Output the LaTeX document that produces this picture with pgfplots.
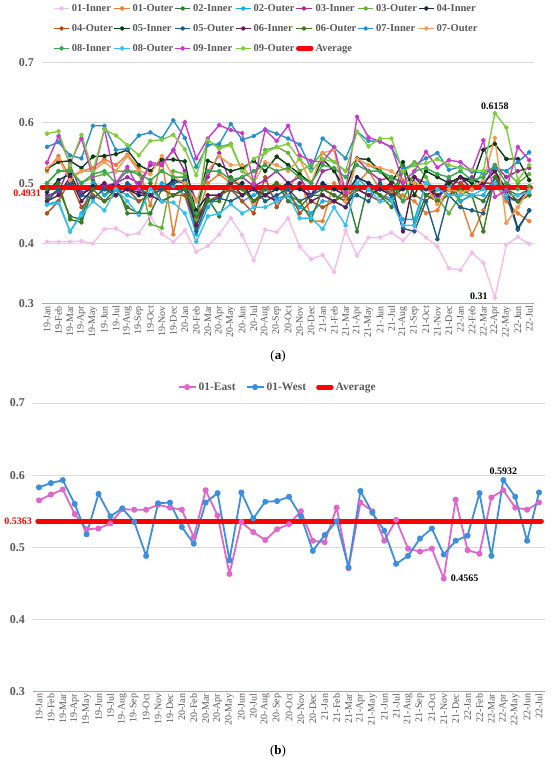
\documentclass[border=0pt]{standalone}
\usepackage{fontspec}
\setmainfont{Liberation Serif}
\usepackage{pgfplots}
\usepackage{pgfplotstable}
\pgfplotsset{compat=1.18}

\definecolor{ci01}{HTML}{F4BCE8}
\definecolor{co01}{HTML}{ED7D31}
\definecolor{ci02}{HTML}{2E7D32}
\definecolor{co02}{HTML}{1AAAE8}
\definecolor{ci03}{HTML}{A22DA0}
\definecolor{co03}{HTML}{5FB33A}
\definecolor{ci04}{HTML}{13294B}
\definecolor{co04}{HTML}{B0521E}
\definecolor{ci05}{HTML}{0B3D12}
\definecolor{co05}{HTML}{1D5E85}
\definecolor{ci06}{HTML}{5E1A56}
\definecolor{co06}{HTML}{3D7A1E}
\definecolor{ci07}{HTML}{2390CC}
\definecolor{co07}{HTML}{F79A55}
\definecolor{ci08}{HTML}{34A84A}
\definecolor{co08}{HTML}{34C0F2}
\definecolor{ci09}{HTML}{CC3ACB}
\definecolor{co09}{HTML}{7ECE3C}
\definecolor{ceast}{HTML}{E066CC}
\definecolor{cwest}{HTML}{3C8FDC}
\definecolor{tickgray}{HTML}{595959}
\definecolor{gridgray}{HTML}{D9D9D9}
\definecolor{axblue}{HTML}{8EAFD0}

\pgfplotstableread[header=false]{
i01 0.403 0.403 0.403 0.404 0.400 0.424 0.425 0.414 0.417 0.445 0.416 0.403 0.422 0.386 0.396 0.415 0.442 0.414 0.372 0.423 0.419 0.442 0.395 0.374 0.381 0.353 0.422 0.380 0.410 0.410 0.418 0.405 0.425 0.410 0.395 0.359 0.356 0.385 0.368 0.310 0.398 0.411 0.399
o01 0.520 0.545 0.510 0.520 0.525 0.540 0.530 0.547 0.525 0.463 0.540 0.415 0.510 0.440 0.500 0.515 0.500 0.500 0.460 0.490 0.500 0.490 0.520 0.437 0.437 0.500 0.480 0.500 0.520 0.490 0.485 0.480 0.470 0.450 0.455 0.490 0.470 0.414 0.455 0.500 0.470 0.450 0.437
i02 0.475 0.490 0.445 0.440 0.505 0.480 0.500 0.450 0.450 0.450 0.490 0.480 0.490 0.440 0.475 0.445 0.490 0.480 0.500 0.480 0.500 0.470 0.460 0.480 0.480 0.470 0.490 0.420 0.500 0.480 0.470 0.530 0.430 0.480 0.470 0.510 0.470 0.480 0.470 0.500 0.490 0.480 0.490
o02 0.465 0.470 0.420 0.450 0.500 0.480 0.490 0.480 0.470 0.480 0.500 0.495 0.480 0.415 0.460 0.480 0.490 0.470 0.480 0.490 0.475 0.480 0.460 0.450 0.470 0.470 0.460 0.510 0.490 0.480 0.475 0.440 0.440 0.500 0.480 0.495 0.470 0.480 0.480 0.510 0.475 0.470 0.480
i03 0.480 0.485 0.530 0.485 0.490 0.495 0.500 0.510 0.500 0.530 0.530 0.555 0.520 0.470 0.510 0.550 0.500 0.510 0.495 0.505 0.520 0.500 0.510 0.480 0.520 0.525 0.470 0.540 0.520 0.505 0.510 0.500 0.510 0.500 0.470 0.505 0.500 0.510 0.495 0.530 0.510 0.520 0.525
o03 0.500 0.520 0.523 0.500 0.510 0.515 0.520 0.520 0.520 0.432 0.426 0.520 0.515 0.440 0.570 0.560 0.565 0.520 0.505 0.555 0.560 0.550 0.520 0.530 0.550 0.535 0.520 0.540 0.530 0.520 0.505 0.520 0.535 0.510 0.475 0.450 0.480 0.490 0.520 0.525 0.520 0.500 0.515
i04 0.485 0.505 0.515 0.480 0.495 0.490 0.500 0.490 0.480 0.480 0.490 0.505 0.500 0.455 0.480 0.480 0.490 0.500 0.470 0.480 0.490 0.500 0.490 0.480 0.500 0.490 0.480 0.510 0.500 0.490 0.480 0.490 0.500 0.480 0.490 0.500 0.510 0.505 0.500 0.520 0.490 0.425 0.455
o04 0.450 0.470 0.505 0.460 0.480 0.470 0.480 0.490 0.470 0.480 0.490 0.480 0.480 0.430 0.470 0.480 0.490 0.470 0.450 0.510 0.460 0.490 0.450 0.470 0.460 0.470 0.480 0.490 0.480 0.470 0.490 0.470 0.480 0.470 0.490 0.480 0.500 0.490 0.500 0.500 0.490 0.470 0.480
i05 0.524 0.535 0.537 0.525 0.544 0.545 0.548 0.555 0.530 0.520 0.539 0.539 0.536 0.447 0.537 0.530 0.520 0.525 0.537 0.520 0.544 0.530 0.515 0.500 0.540 0.520 0.490 0.541 0.539 0.520 0.500 0.535 0.480 0.520 0.510 0.500 0.510 0.500 0.555 0.565 0.540 0.540 0.505
o05 0.470 0.490 0.500 0.480 0.475 0.490 0.480 0.500 0.490 0.480 0.490 0.500 0.505 0.420 0.470 0.475 0.470 0.480 0.490 0.470 0.480 0.490 0.470 0.480 0.490 0.480 0.470 0.480 0.470 0.500 0.480 0.425 0.420 0.470 0.407 0.480 0.460 0.455 0.450 0.510 0.480 0.423 0.455
i06 0.470 0.480 0.510 0.470 0.490 0.500 0.480 0.490 0.485 0.480 0.470 0.480 0.490 0.430 0.480 0.480 0.500 0.480 0.490 0.480 0.470 0.480 0.500 0.470 0.480 0.470 0.460 0.490 0.480 0.490 0.500 0.420 0.510 0.490 0.480 0.490 0.510 0.490 0.500 0.520 0.480 0.470 0.490
o06 0.490 0.500 0.440 0.435 0.490 0.470 0.490 0.460 0.450 0.500 0.470 0.480 0.490 0.445 0.470 0.470 0.510 0.490 0.470 0.490 0.500 0.480 0.470 0.440 0.490 0.480 0.470 0.490 0.490 0.480 0.460 0.520 0.500 0.480 0.470 0.480 0.490 0.480 0.420 0.510 0.490 0.470 0.480
i07 0.560 0.568 0.546 0.541 0.595 0.595 0.555 0.557 0.579 0.584 0.574 0.604 0.575 0.527 0.563 0.565 0.598 0.572 0.578 0.589 0.582 0.574 0.564 0.524 0.574 0.559 0.541 0.585 0.570 0.569 0.559 0.524 0.530 0.541 0.550 0.522 0.527 0.519 0.517 0.525 0.520 0.535 0.551
o07 0.525 0.540 0.505 0.520 0.520 0.535 0.520 0.545 0.520 0.515 0.545 0.510 0.500 0.470 0.520 0.545 0.530 0.530 0.500 0.535 0.530 0.520 0.540 0.500 0.550 0.555 0.470 0.540 0.530 0.525 0.520 0.505 0.500 0.495 0.465 0.490 0.485 0.490 0.505 0.575 0.434 0.460 0.490
i08 0.500 0.520 0.520 0.500 0.515 0.520 0.500 0.520 0.515 0.505 0.520 0.510 0.510 0.450 0.520 0.520 0.505 0.510 0.520 0.530 0.520 0.525 0.510 0.500 0.530 0.525 0.510 0.530 0.520 0.520 0.510 0.470 0.520 0.525 0.515 0.510 0.520 0.505 0.510 0.530 0.500 0.490 0.495
o08 0.464 0.467 0.420 0.447 0.470 0.455 0.490 0.470 0.447 0.490 0.470 0.468 0.450 0.403 0.445 0.450 0.465 0.450 0.460 0.460 0.470 0.480 0.442 0.442 0.424 0.460 0.430 0.500 0.490 0.470 0.470 0.430 0.430 0.500 0.490 0.480 0.480 0.480 0.490 0.500 0.480 0.480 0.485
i09 0.534 0.578 0.532 0.574 0.510 0.590 0.500 0.527 0.490 0.534 0.532 0.554 0.601 0.541 0.574 0.596 0.588 0.583 0.500 0.588 0.570 0.595 0.546 0.537 0.535 0.560 0.485 0.610 0.576 0.569 0.560 0.502 0.520 0.552 0.526 0.538 0.535 0.520 0.571 0.477 0.488 0.560 0.538
o09 0.582 0.586 0.530 0.580 0.520 0.589 0.579 0.563 0.546 0.570 0.572 0.580 0.556 0.513 0.571 0.557 0.563 0.520 0.540 0.550 0.560 0.565 0.540 0.520 0.540 0.535 0.520 0.585 0.561 0.574 0.574 0.520 0.530 0.533 0.540 0.530 0.525 0.522 0.520 0.6158 0.592 0.505 0.530
}\rawA
\pgfplotstabletranspose[colnames from=0]\tabA\rawA

\pgfplotstableread[header=false]{
east 0.565 0.573 0.580 0.546 0.525 0.526 0.533 0.553 0.552 0.552 0.559 0.555 0.552 0.514 0.579 0.544 0.463 0.535 0.521 0.510 0.525 0.532 0.550 0.509 0.507 0.555 0.471 0.562 0.550 0.509 0.538 0.498 0.494 0.498 0.4565 0.566 0.496 0.491 0.569 0.579 0.555 0.552 0.562
west 0.583 0.589 0.593 0.560 0.518 0.574 0.543 0.554 0.535 0.488 0.561 0.562 0.528 0.505 0.562 0.575 0.482 0.576 0.540 0.563 0.564 0.570 0.543 0.495 0.517 0.536 0.472 0.578 0.548 0.523 0.477 0.488 0.512 0.526 0.490 0.509 0.516 0.575 0.488 0.5932 0.570 0.509 0.576
}\rawB
\pgfplotstabletranspose[colnames from=0]\tabB\rawB

\pgfplotsset{
  months/.style={xtick={0,...,42},xticklabels={19-Jan,19-Feb,19-Mar,19-Apr,19-May,19-Jun,19-Jul,19-Aug,19-Sep,19-Oct,19-Nov,19-Dec,20-Jan,20-Feb,20-Mar,20-Apr,20-May,20-Jun,20-Jul,20-Aug,20-Sep,20-Oct,20-Nov,20-Dec,21-Jan,21-Feb,21-Mar,21-Apr,21-May,21-Jun,21-Jul,21-Aug,21-Sep,21-Oct,21-Nov,21-Dec,22-Jan,22-Feb,22-Mar,22-Apr,22-May,22-Jun,22-Jul}},
  common/.style={
    scale only axis, clip=false,
    ymin=0.3, ymax=0.7,
    axis x line*=bottom, axis y line*=left,
    x axis line style={draw=axblue, line width=0.9pt, -},
    y axis line style={draw=none},
    ytick={0.3,0.4,0.5,0.6,0.7}, yticklabels={0.3,0.4,0.5,0.6,0.7},
    months,
    major tick length=0pt,
    ymajorgrids, grid style={draw=gridgray, line width=0.8pt},
    xticklabel style={rotate=90, anchor=east, font=\fontsize{10}{10}\selectfont, text=tickgray, inner sep=2pt},
    yticklabel style={font=\fontsize{12}{12}\selectfont\bfseries, text=tickgray, inner sep=0pt, xshift=-8pt},
    legend cell align=left,
  },
  ser/.style={color=#1, line width=1.4pt, mark=*, mark size=1.7pt, mark options={solid, fill=#1}, line join=round,
    legend image code/.code={\draw[mark repeat=2,mark phase=2,##1] plot coordinates {(0cm,0cm) (0.27cm,0cm) (0.54cm,0cm)};}},
  serb/.style={color=#1, line width=1.8pt, mark=*, mark size=2.1pt, mark options={solid, fill=#1}, line join=round},
  avg/.style={color=red, line width=5pt, line cap=round,
    legend image code/.code={\draw[red, line width=5pt, line cap=round] (0.08cm,0cm) -- (0.52cm,0cm);}},
}

\begin{document}
\begin{tikzpicture}
\path[use as bounding box] (0,0) rectangle (550pt,761pt);

\begin{axis}[common,
  at={(42pt,457.1pt)}, anchor=south west,
  width=492pt, height=241.5pt,
  xmin=-0.4355, xmax=42.41,
  legend columns=7,
  legend style={at={(0.456,1.25)}, anchor=north, draw=none, fill=none,
    inner xsep=0pt, inner ysep=0pt,
    font=\fontsize{10.5}{12}\selectfont\bfseries, text=tickgray,
    /tikz/every even column/.append style={column sep=-1pt},
    row sep=7.5pt},
]
\addplot[ser=ci01] table[x expr=\coordindex, y=i01]{\tabA}; \addlegendentry{01-Inner}
\addplot[ser=co01] table[x expr=\coordindex, y=o01]{\tabA}; \addlegendentry{01-Outer}
\addplot[ser=ci02] table[x expr=\coordindex, y=i02]{\tabA}; \addlegendentry{02-Inner}
\addplot[ser=co02] table[x expr=\coordindex, y=o02]{\tabA}; \addlegendentry{02-Outer}
\addplot[ser=ci03] table[x expr=\coordindex, y=i03]{\tabA}; \addlegendentry{03-Inner}
\addplot[ser=co03] table[x expr=\coordindex, y=o03]{\tabA}; \addlegendentry{03-Outer}
\addplot[ser=ci04] table[x expr=\coordindex, y=i04]{\tabA}; \addlegendentry{04-Inner}
\addplot[ser=co04] table[x expr=\coordindex, y=o04]{\tabA}; \addlegendentry{04-Outer}
\addplot[ser=ci05] table[x expr=\coordindex, y=i05]{\tabA}; \addlegendentry{05-Inner}
\addplot[ser=co05] table[x expr=\coordindex, y=o05]{\tabA}; \addlegendentry{05-Outer}
\addplot[ser=ci06] table[x expr=\coordindex, y=i06]{\tabA}; \addlegendentry{06-Inner}
\addplot[ser=co06] table[x expr=\coordindex, y=o06]{\tabA}; \addlegendentry{06-Outer}
\addplot[ser=ci07] table[x expr=\coordindex, y=i07]{\tabA}; \addlegendentry{07-Inner}
\addplot[ser=co07] table[x expr=\coordindex, y=o07]{\tabA}; \addlegendentry{07-Outer}
\addplot[ser=ci08] table[x expr=\coordindex, y=i08]{\tabA}; \addlegendentry{08-Inner}
\addplot[ser=co08] table[x expr=\coordindex, y=o08]{\tabA}; \addlegendentry{08-Outer}
\addplot[ser=ci09] table[x expr=\coordindex, y=i09]{\tabA}; \addlegendentry{09-Inner}
\addplot[ser=co09] table[x expr=\coordindex, y=o09]{\tabA}; \addlegendentry{09-Outer}
\addplot[avg] coordinates {(-0.43,0.4931) (42.1,0.4931)}; \addlegendentry{Average}
\node[anchor=east, text=red, font=\fontsize{10}{10}\selectfont\bfseries, inner sep=0pt, yshift=-6pt, xshift=-1pt] at (axis cs:-0.4355,0.4931) {0.4931};
\node[anchor=south, font=\fontsize{10}{10}\selectfont\bfseries, inner sep=1pt, yshift=2pt] at (axis cs:39,0.6158) {0.6158};
\node[anchor=east, font=\fontsize{10}{10}\selectfont\bfseries, inner sep=1pt, xshift=-6pt, yshift=2pt] at (axis cs:39,0.31) {0.31};
\end{axis}

\begin{axis}[common,
  at={(33pt,69.5pt)}, anchor=south west,
  width=512pt, height=288.5pt,
  xmin=-0.504, xmax=42.504,
  legend columns=3,
  legend style={at={(0.478,1.055)}, anchor=center, draw=none, fill=none,
    font=\fontsize{11.5}{12}\selectfont\bfseries, text=tickgray,
    /tikz/every even column/.append style={column sep=8pt}},
]
\addplot[serb=ceast] table[x expr=\coordindex, y=east]{\tabB}; \addlegendentry{01-East}
\addplot[serb=cwest] table[x expr=\coordindex, y=west]{\tabB}; \addlegendentry{01-West}
\addplot[avg] coordinates {(-0.1,0.5363) (42.2,0.5363)}; \addlegendentry{Average}
\node[anchor=east, text=red, font=\fontsize{10}{10}\selectfont\bfseries, inner sep=1pt] at (axis cs:-0.504,0.5363) {0.5363};
\node[anchor=south, font=\fontsize{10}{10}\selectfont\bfseries, inner sep=1pt, yshift=4pt] at (axis cs:39,0.5932) {0.5932};
\node[anchor=west, font=\fontsize{10}{10}\selectfont\bfseries, inner sep=1pt, xshift=6pt] at (axis cs:34,0.4565) {0.4565};
\end{axis}

\node[font=\fontsize{13}{13}\selectfont] at (278pt,405pt) {(\textbf{a})};
\node[font=\fontsize{13}{13}\selectfont] at (278pt,10pt) {(\textbf{b})};
\end{tikzpicture}
\end{document}
